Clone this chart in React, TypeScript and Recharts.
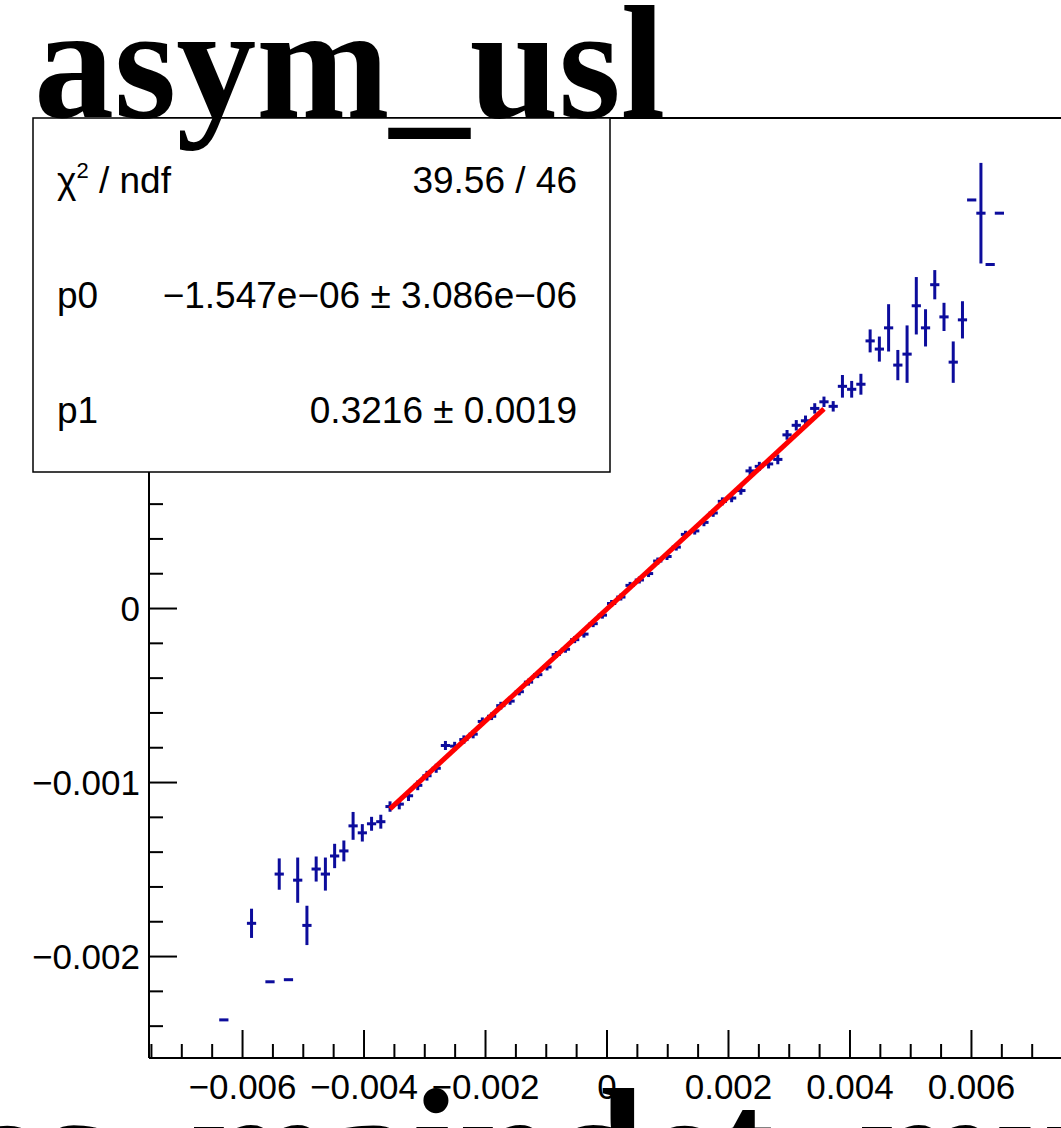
import React from 'react';
import { ComposedChart, Scatter, Line, XAxis, YAxis, ErrorBar, ReferenceLine } from 'recharts';

// profile bins (bin centres, means, errors on the mean)
const binX = [
  -0.006308, -0.005852, -0.005548, -0.005396, -0.005244, -0.005092, -0.00494, -0.004788, -0.004636, -0.004484,
  -0.004332, -0.00418, -0.004028, -0.003876, -0.003724,
  -0.003572, -0.00342, -0.003268, -0.003116, -0.002964, -0.002812, -0.00266, -0.002508, -0.002356, -0.002204,
  -0.002052, -0.0019, -0.001748, -0.001596, -0.001444, -0.001292, -0.00114, -0.000988, -0.000836, -0.000684,
  -0.000532, -0.00038, -0.000228, -0.000076, 0.000076, 0.000228, 0.00038, 0.000532, 0.000684, 0.000836,
  0.000988, 0.00114, 0.001292, 0.001444, 0.001596, 0.001748, 0.0019, 0.002052, 0.002204, 0.002356,
  0.002508, 0.00266, 0.002812, 0.002964, 0.003116, 0.003268, 0.00342, 0.003572,
  0.003724, 0.003876, 0.004028, 0.00418, 0.004332, 0.004484, 0.004636, 0.004788, 0.00494, 0.005092,
  0.005244, 0.005396, 0.005548, 0.0057, 0.005852, 0.006004, 0.006156, 0.006308, 0.00646,
];

const binY = [
  -0.002364, -0.001809, -0.002145, -0.001526, -0.002133, -0.001561, -0.001821, -0.001497, -0.001526, -0.001422,
  -0.001393, -0.001249, -0.001289, -0.001237, -0.001225,
  -0.001138, -0.001124, -0.001076, -0.001016, -0.000961, -0.000918, -0.000787, -0.000791, -0.000753, -0.000722,
  -0.000649, -0.000619, -0.000558, -0.000532, -0.000478, -0.000423, -0.00038, -0.000336, -0.000264, -0.000234,
  -0.000179, -0.000147, -0.000087, -0.000038, 0.000029, 0.000066, 0.000133, 0.000164, 0.000201, 0.000273,
  0.000299, 0.000353, 0.000426, 0.000446, 0.000495, 0.000549, 0.000616, 0.000635, 0.000678, 0.000791,
  0.000817, 0.000831, 0.000857, 0.000998, 0.001053, 0.001079, 0.00115, 0.001188,
  0.001162, 0.001277, 0.00126, 0.001289, 0.001538, 0.001491, 0.001613, 0.001399, 0.001462, 0.00174,
  0.001613, 0.001861, 0.001676, 0.001416, 0.001659, 0.002348, 0.002272, 0.001977, 0.002272,
];

const binErr = [
  0, 0.000084, 0, 0.00009, 0, 0.00013, 0.000113, 0.000072, 0.000095, 0.00007,
  0.00006, 0.00008, 0.00005, 0.00004, 0.00004,
  0.00003, 0.00003, 0.00003, 0.000028, 0.000028, 0.000026, 0.000026, 0.000025, 0.000024, 0.000024,
  0.000023, 0.000022, 0.000022, 0.000021, 0.000021, 0.00002, 0.00002, 0.00002, 0.00002, 0.00002,
  0.00002, 0.00002, 0.00002, 0.00002, 0.00002, 0.00002, 0.00002, 0.00002, 0.00002, 0.00002,
  0.00002, 0.00002, 0.000021, 0.000021, 0.000022, 0.000022, 0.000023, 0.000024, 0.000024, 0.000025,
  0.000026, 0.000026, 0.000028, 0.000028, 0.00003, 0.00003, 0.00003, 0.00003,
  0.00003, 0.000065, 0.000048, 0.00006, 0.000066, 0.000072, 0.000136, 0.000087, 0.000165, 0.000165,
  0.000107, 0.000084, 0.000081, 0.000119, 0.000107, 0, 0.000289, 0, 0,
];

const binHalfWidth = 0.000076;

// pol1 fit drawn over the fit range
const fitX = [-0.003572, 0.003572];
const fitY = [-0.001151, 0.001147];

const xTicks = [
  -0.0075, -0.007, -0.0065, -0.006, -0.0055, -0.005, -0.0045, -0.004, -0.0035, -0.003, -0.0025, -0.002, -0.0015,
  -0.001, -0.0005, 0, 0.0005, 0.001, 0.0015, 0.002, 0.0025, 0.003, 0.0035, 0.004, 0.0045, 0.005, 0.0055, 0.006,
  0.0065, 0.007, 0.0075,
];
const yTicks = [
  -0.0024, -0.0022, -0.002, -0.0018, -0.0016, -0.0014, -0.0012, -0.001, -0.0008, -0.0006, -0.0004, -0.0002, 0,
  0.0002, 0.0004, 0.0006, 0.0008, 0.001, 0.0012, 0.0014, 0.0016, 0.0018, 0.002, 0.0022, 0.0024, 0.0026, 0.0028,
];

const X_DOMAIN: [number, number] = [-0.00754, 0.00754];
const Y_DOMAIN: [number, number] = [-0.002583, 0.002819];

const points = binX.map((x, i) => ({ x, y: binY[i], ey: binErr[i], ex: binHalfWidth }));
const fitData = fitX.map((x, i) => ({ x, y: fitY[i] }));

const SANS = '"Liberation Sans", Arial, Helvetica, sans-serif';
const SERIF = '"Liberation Serif", "Times New Roman", serif';
const BLUE = '#0c0c9c';

const isMajor = (v: number, step: number) => Math.abs(v / step - Math.round(v / step)) < 1e-6;
const fmt = (v: number) => (Math.abs(v) < 1e-12 ? '0' : (v < 0 ? '\u2212' : '') + Math.abs(v).toFixed(3));

const XTick = (props: any) => {
  const { x, y, payload } = props;
  const major = isMajor(payload.value, 0.002);
  return (
    <g>
      <line x1={x} x2={x} y1={y} y2={y - (major ? 28 : 14)} stroke="#000" strokeWidth={2} />
      {major && (
        <text x={x} y={y + 41} textAnchor="middle" fontFamily={SANS} fontSize={35} fill="#000">
          {fmt(payload.value)}
        </text>
      )}
    </g>
  );
};

const YTick = (props: any) => {
  const { x, y, payload } = props;
  const major = isMajor(payload.value, 0.001);
  return (
    <g>
      <line x1={x} x2={x + (major ? 28 : 14)} y1={y} y2={y} stroke="#000" strokeWidth={2} />
      {major && (
        <text x={x - 9} y={y + 12} textAnchor="end" fontFamily={SANS} fontSize={35} fill="#000">
          {fmt(payload.value)}
        </text>
      )}
    </g>
  );
};

const noMarker = () => <g />;

export default function App() {
  return (
    <div style={{ position: 'absolute', left: 0, top: 0, width: 1061, height: 1128, overflow: 'hidden', background: '#fff' }}>
      <ComposedChart width={1080} height={1128} margin={{ top: 118, right: 15, bottom: 0, left: 0 }}>
        <XAxis
          type="number"
          dataKey="x"
          domain={X_DOMAIN}
          ticks={xTicks}
          interval={0}
          allowDataOverflow
          height={70}
          tickSize={0}
          tickMargin={0}
          tickLine={false}
          axisLine={{ stroke: '#000', strokeWidth: 2 }}
          tick={XTick}
        />
        <YAxis
          type="number"
          dataKey="y"
          domain={Y_DOMAIN}
          ticks={yTicks}
          interval={0}
          allowDataOverflow
          width={149}
          tickSize={0}
          tickMargin={0}
          tickLine={false}
          axisLine={{ stroke: '#000', strokeWidth: 2 }}
          tick={YTick}
        />
        <ReferenceLine y={Y_DOMAIN[1]} stroke="#000" strokeWidth={2} ifOverflow="extendDomain" />
        <Scatter data={points} dataKey="y" shape={noMarker} isAnimationActive={false}>
          <ErrorBar dataKey="ey" direction="y" width={0} stroke={BLUE} strokeWidth={3} />
          <ErrorBar dataKey="ex" direction="x" width={0} stroke={BLUE} strokeWidth={3} />
        </Scatter>
        <Line
          data={fitData}
          dataKey="y"
          type="linear"
          stroke="#ff0000"
          strokeWidth={5}
          dot={false}
          activeDot={false}
          isAnimationActive={false}
        />
      </ComposedChart>

      <svg width={1061} height={1128} style={{ position: 'absolute', left: 0, top: 0, pointerEvents: 'none' }}>
        {/* stats box */}
        <rect x={33} y={118} width={577} height={354} fill="#fff" stroke="#000" strokeWidth={1.5} />
        <g fontFamily={SANS} fontSize={37} fill="#000">
          <text x={57} y={193}>
            {'\u03c7'}
            <tspan fontSize={22} dy={-15}>2</tspan>
            <tspan dy={15}>{' / ndf'}</tspan>
          </text>
          <text x={577} y={193} textAnchor="end">39.56 / 46</text>
          <text x={57} y={308}>p0</text>
          <text x={577} y={308} textAnchor="end">{'\u22121.547e\u221206 \u00b1 3.086e\u221206'}</text>
          <text x={57} y={423}>p1</text>
          <text x={577} y={423} textAnchor="end">{'0.3216 \u00b1 0.0019'}</text>
        </g>
        {/* title */}
        <text x={34} y={117} fontFamily={SERIF} fontWeight="bold" fontSize={160} fill="#000">
          asym_usl
        </text>
        {/* axis title, mostly below the picture */}
        <text x={-33} y={1204} fontFamily={SERIF} fontWeight="bold" fontSize={167} fill="#000">
          es_maindet_mu
        </text>
      </svg>
    </div>
  );
}
